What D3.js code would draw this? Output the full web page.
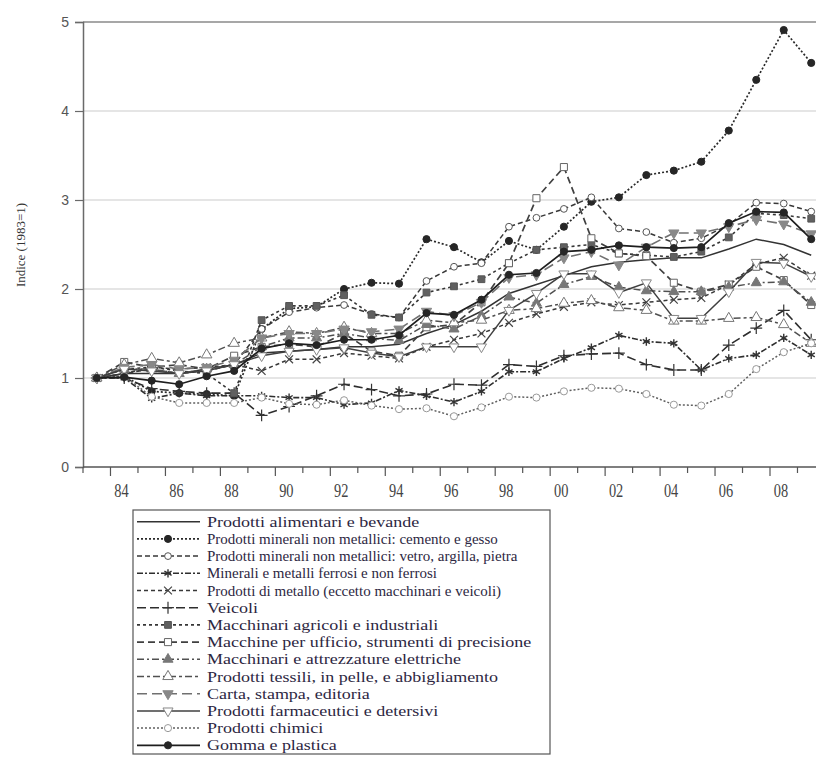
<!DOCTYPE html>
<html>
<head>
<meta charset="utf-8">
<script src="https://cdn.jsdelivr.net/npm/d3@7"></script>
<style>
  body { margin: 0; background: #fff; }
  svg { display: block; }
</style>
</head>
<body>
<div id="chart"></div>
<script>
// years on the x axis (one point per year, drawn at the middle of each year)
var years = [1983,1984,1985,1986,1987,1988,1989,1990,1991,1992,1993,1994,1995,1996,
             1997,1998,1999,2000,2001,2002,2003,2004,2005,2006,2007,2008,2009];
var yTicks = [0, 1, 2, 3, 4, 5];
var xLabelYears = [1984,1986,1988,1990,1992,1994,1996,1998,2000,2002,2004,2006,2008];

// index values (1983 = 1)
var alimentari   = [1.00,1.05,1.05,1.05,1.10,1.15,1.28,1.30,1.32,1.35,1.35,1.38,1.50,1.60,1.75,1.95,2.05,2.15,2.25,2.30,2.33,2.35,2.35,2.45,2.56,2.50,2.38];
var cemento      = [1.00,1.02,0.85,0.83,0.82,0.80,1.55,1.78,1.80,2.00,2.07,2.06,2.56,2.47,2.30,2.54,2.44,2.70,2.98,3.03,3.28,3.33,3.43,3.78,4.35,4.91,4.54];
var vetro        = [1.00,1.05,1.10,1.05,1.08,1.15,1.55,1.74,1.79,1.82,1.72,1.68,2.09,2.25,2.29,2.70,2.80,2.90,3.03,2.68,2.64,2.52,2.57,2.72,2.97,2.96,2.87];
var minerali     = [1.00,1.00,0.77,0.83,0.80,0.80,0.80,0.78,0.78,0.70,0.72,0.86,0.80,0.73,0.85,1.07,1.07,1.22,1.34,1.48,1.41,1.39,1.09,1.22,1.26,1.45,1.26];
var metallo      = [1.00,1.05,1.12,1.10,1.12,1.15,1.08,1.21,1.21,1.28,1.25,1.22,1.35,1.43,1.50,1.62,1.72,1.80,1.85,1.82,1.85,1.88,1.90,2.05,2.28,2.35,2.15];
var veicoli      = [1.00,1.00,0.88,0.85,0.83,0.83,0.58,0.68,0.80,0.93,0.87,0.80,0.82,0.93,0.92,1.15,1.13,1.25,1.27,1.28,1.15,1.09,1.09,1.37,1.56,1.76,1.43];
var agricoli     = [1.00,1.10,1.12,1.08,1.05,0.83,1.65,1.81,1.81,1.93,1.71,1.68,1.96,2.03,2.11,2.29,2.44,2.47,2.50,2.40,2.38,2.36,2.42,2.58,2.85,2.83,2.79];
var ufficio      = [1.00,1.18,1.12,1.15,1.10,1.25,1.35,1.38,1.35,1.50,1.30,1.25,1.57,1.60,1.85,2.29,3.02,3.37,2.57,2.40,2.37,2.07,1.97,2.05,2.25,2.10,1.82];
var elettriche   = [1.00,1.10,1.10,1.05,1.10,1.15,1.35,1.45,1.45,1.50,1.45,1.42,1.60,1.55,1.70,1.91,1.84,2.05,2.14,2.02,1.98,1.97,1.97,2.02,2.07,2.08,1.85];
var tessili      = [1.00,1.15,1.22,1.17,1.26,1.39,1.45,1.52,1.50,1.57,1.50,1.50,1.65,1.62,1.65,1.76,1.78,1.84,1.87,1.79,1.76,1.64,1.64,1.67,1.68,1.60,1.39];
var carta        = [1.00,1.12,1.15,1.10,1.12,1.20,1.45,1.50,1.50,1.55,1.52,1.55,1.75,1.70,1.85,2.13,2.16,2.35,2.42,2.27,2.47,2.63,2.63,2.70,2.78,2.73,2.62];
var farmaceutici = [1.00,1.10,1.08,1.05,1.08,1.15,1.25,1.30,1.32,1.34,1.28,1.24,1.35,1.35,1.35,1.76,1.95,2.17,2.17,1.96,2.07,1.67,1.67,1.97,2.30,2.29,2.14];
var chimici      = [1.00,1.02,0.79,0.72,0.72,0.72,0.78,0.71,0.70,0.75,0.69,0.65,0.66,0.57,0.67,0.79,0.78,0.85,0.89,0.88,0.82,0.70,0.69,0.82,1.10,1.29,1.39];
var gomma        = [1.00,1.01,0.97,0.93,1.02,1.08,1.33,1.39,1.37,1.43,1.43,1.48,1.73,1.71,1.88,2.16,2.18,2.42,2.44,2.49,2.47,2.46,2.47,2.74,2.87,2.86,2.56];

var seriesNames = [
  "Prodotti alimentari e bevande",
  "Prodotti minerali non metallici: cemento e gesso",
  "Prodotti minerali non metallici: vetro, argilla, pietra",
  "Minerali e metalli ferrosi e non ferrosi",
  "Prodotti di metallo (eccetto macchinari e veicoli)",
  "Veicoli",
  "Macchinari agricoli e industriali",
  "Macchine per ufficio, strumenti di precisione",
  "Macchinari e attrezzature elettriche",
  "Prodotti tessili, in pelle, e abbigliamento",
  "Carta, stampa, editoria",
  "Prodotti farmaceutici e detersivi",
  "Prodotti chimici",
  "Gomma e plastica"
];
var seriesValues = [alimentari, cemento, vetro, minerali, metallo, veicoli, agricoli,
                    ufficio, elettriche, tessili, carta, farmaceutici, chimici, gomma];

// drawing style for each series (same order as the names)
var styles = [
  { dash: null,        color: "#333",    width: 1.5, marker: "none" },
  { dash: "2,2",       color: "#2a2a2a", width: 1.7, marker: "dotBlack" },
  { dash: "5,3",       color: "#383838", width: 1.5, marker: "circleOpen" },
  { dash: "6,2,2,2",   color: "#2e2e2e", width: 1.6, marker: "asterisk" },
  { dash: "4,3",       color: "#383838", width: 1.5, marker: "times" },
  { dash: "9,4",       color: "#2e2e2e", width: 1.6, marker: "plus" },
  { dash: "3,3",       color: "#363636", width: 1.6, marker: "squareGray" },
  { dash: "7,4",       color: "#404040", width: 1.7, marker: "squareOpen" },
  { dash: "7,3,2,3",   color: "#505050", width: 1.5, marker: "triGray" },
  { dash: "7,3,3,3",   color: "#505050", width: 1.5, marker: "triOpen" },
  { dash: "10,5",      color: "#707070", width: 1.6, marker: "triDownGray" },
  { dash: null,        color: "#404040", width: 1.5, marker: "triDownOpen" },
  { dash: "2,2",       color: "#606060", width: 1.5, marker: "circleLight" },
  { dash: null,        color: "#1e1e1e", width: 1.7, marker: "dotBlack" }
];

var W = 816, H = 757;
var plotLeft = 83, plotTop = 22, plotBottom = 467;
var yearStep = 27.48;

var svg = d3.select("#chart").append("svg")
  .attr("width", W)
  .attr("height", H);

var xScale = d3.scaleLinear()
  .domain([1983, 2010])
  .range([plotLeft, plotLeft + 27 * yearStep]);

var yScale = d3.scaleLinear()
  .domain([0, 5])
  .range([plotBottom, plotTop]);

// horizontal grid lines
svg.append("g")
  .selectAll("line")
  .data([1, 2, 3, 4])
  .enter()
  .append("line")
  .attr("x1", plotLeft).attr("x2", W)
  .attr("y1", function(d) { return yScale(d); })
  .attr("y2", function(d) { return yScale(d); })
  .attr("stroke", "#dcdcdc")
  .attr("stroke-width", 1.3);

// top frame line
svg.append("line")
  .attr("x1", plotLeft).attr("x2", W)
  .attr("y1", yScale(5)).attr("y2", yScale(5))
  .attr("stroke", "#8a8a8a").attr("stroke-width", 1.4);

// y axis
var yAxis = svg.append("g")
  .attr("transform", "translate(" + plotLeft + ",0)")
  .call(d3.axisLeft(yScale).tickValues(yTicks).tickSize(8).tickPadding(6).tickFormat(d3.format("d")));
yAxis.select(".domain").attr("stroke", "#6a6a6a").attr("stroke-width", 1.5);
yAxis.selectAll(".tick line").attr("stroke", "#6a6a6a").attr("stroke-width", 1.2);
yAxis.selectAll(".tick text")
  .attr("fill", "#555")
  .style("font-family", "'Liberation Sans', Arial, sans-serif")
  .style("font-size", "14px");

// x axis: a tick at each year boundary, longer ones where labels sit
var xAxisG = svg.append("g");
xAxisG.append("line")
  .attr("x1", plotLeft).attr("x2", W)
  .attr("y1", plotBottom).attr("y2", plotBottom)
  .attr("stroke", "#555").attr("stroke-width", 1.5);
xAxisG.selectAll("line.tick")
  .data(years)
  .enter()
  .append("line")
  .attr("class", "tick")
  .attr("x1", function(d) { return xScale(d); })
  .attr("x2", function(d) { return xScale(d); })
  .attr("y1", plotBottom)
  .attr("y2", function(d) { return plotBottom + (d % 2 === 0 ? 9 : 6); })
  .attr("stroke", "#555").attr("stroke-width", 1.2);
xAxisG.selectAll("text")
  .data(xLabelYears)
  .enter()
  .append("text")
  .attr("transform", function(d) {
    return "translate(" + xScale(d + 0.4) + "," + (plotBottom + 30) + ") scale(0.8,1)";
  })
  .attr("text-anchor", "middle")
  .attr("fill", "#444")
  .style("font-family", "'Liberation Serif', 'Times New Roman', serif")
  .style("font-size", "18px")
  .text(function(d) { return String(d % 100).padStart(2, "0"); });

// y axis label
svg.append("text")
  .attr("transform", "translate(25," + 245 + ") rotate(-90)")
  .attr("text-anchor", "middle")
  .attr("fill", "#333")
  .style("font-family", "'Liberation Serif', 'Times New Roman', serif")
  .style("font-size", "13px")
  .text("Indice (1983=1)");

// marker drawing
function drawMarker(sel, type) {
  if (type === "none") return;
  var sym = d3.symbol();
  var fill = "#2e2e2e", stroke = "#2e2e2e", sw = 1;
  switch (type) {
    case "dotBlack":    sym.type(d3.symbolCircle).size(40); fill = "#262626"; stroke = "#262626"; break;
    case "circleOpen":  sym.type(d3.symbolCircle).size(36); fill = "#fff"; stroke = "#555"; break;
    case "circleLight": sym.type(d3.symbolCircle).size(40); fill = "#fff"; stroke = "#999"; break;
    case "asterisk":    sym.type(d3.symbolAsterisk).size(48); fill = "none"; stroke = "#333"; sw = 1.4; break;
    case "times":       sym.type(d3.symbolTimes).size(42); fill = "none"; stroke = "#444"; sw = 1.2; break;
    case "plus":        sym.type(d3.symbolPlus).size(48); fill = "none"; stroke = "#333"; sw = 1.2; break;
    case "squareGray":  sym.type(d3.symbolSquare).size(46); fill = "#606060"; stroke = "#555"; break;
    case "squareOpen":  sym.type(d3.symbolSquare).size(50); fill = "#fff"; stroke = "#666"; break;
    case "triGray":     sym.type(d3.symbolTriangle).size(44); fill = "#777"; stroke = "#777"; break;
    case "triOpen":     sym.type(d3.symbolTriangle).size(48); fill = "#fff"; stroke = "#777"; break;
    case "triDownGray": sym.type(d3.symbolTriangle).size(46); fill = "#888"; stroke = "#888"; break;
    case "triDownOpen": sym.type(d3.symbolTriangle).size(44); fill = "#fff"; stroke = "#888"; break;
  }
  var rot = (type === "triDownGray" || type === "triDownOpen") ? " rotate(180)" : "";
  sel.append("path")
    .attr("d", sym())
    .attr("transform", function(d) { return "translate(" + d.x + "," + d.y + ")" + rot; })
    .attr("fill", fill)
    .attr("stroke", stroke)
    .attr("stroke-width", sw);
}

var line = d3.line()
  .x(function(d) { return d.x; })
  .y(function(d) { return d.y; });

// series lines and markers
var linesG = svg.append("g");
seriesValues.forEach(function(vals, i) {
  var st = styles[i];
  var pts = vals.map(function(v, j) {
    return { x: xScale(years[j] + 0.5), y: yScale(v) };
  });
  var g = linesG.append("g");
  g.append("path")
    .datum(pts)
    .attr("d", line)
    .attr("fill", "none")
    .attr("stroke", st.color)
    .attr("stroke-width", st.width)
    .attr("stroke-dasharray", st.dash);
  var m = g.selectAll("g.pt").data(pts).enter().append("g").attr("class", "pt");
  drawMarker(m, st.marker);
});

// legend
var legX = 133, legY = 510, legW = 417, rowH = 17.2, firstRow = 521.7;
svg.append("rect")
  .attr("x", legX).attr("y", legY)
  .attr("width", legW).attr("height", 244)
  .attr("fill", "#fff")
  .attr("stroke", "#555")
  .attr("stroke-width", 1.2);

var legendItems = svg.append("g")
  .selectAll("g")
  .data(seriesNames)
  .enter()
  .append("g")
  .attr("transform", function(d, i) { return "translate(0," + (firstRow + i * rowH) + ")"; });

legendItems.append("line")
  .attr("x1", 137).attr("x2", 200)
  .attr("y1", 0).attr("y2", 0)
  .attr("stroke", function(d, i) { return styles[i].color; })
  .attr("stroke-width", function(d, i) { return styles[i].width; })
  .attr("stroke-dasharray", function(d, i) { return styles[i].dash; });

legendItems.each(function(d, i) {
  var g = d3.select(this).append("g").datum({ x: 168, y: 0 });
  drawMarker(g, styles[i].marker);
});

// rows 2-5 are set tighter in the original than the others
legendItems.append("text")
  .attr("transform", function(d, i) {
    var sx = (i >= 1 && i <= 4) ? 1.0 : 1.2;
    return "translate(207,5) scale(" + sx + ",1)";
  })
  .attr("fill", "#2d2742")
  .style("font-family", "'Liberation Serif', 'Times New Roman', serif")
  .style("font-size", "15px")
  .text(function(d) { return d; });
</script>
</body>
</html>
